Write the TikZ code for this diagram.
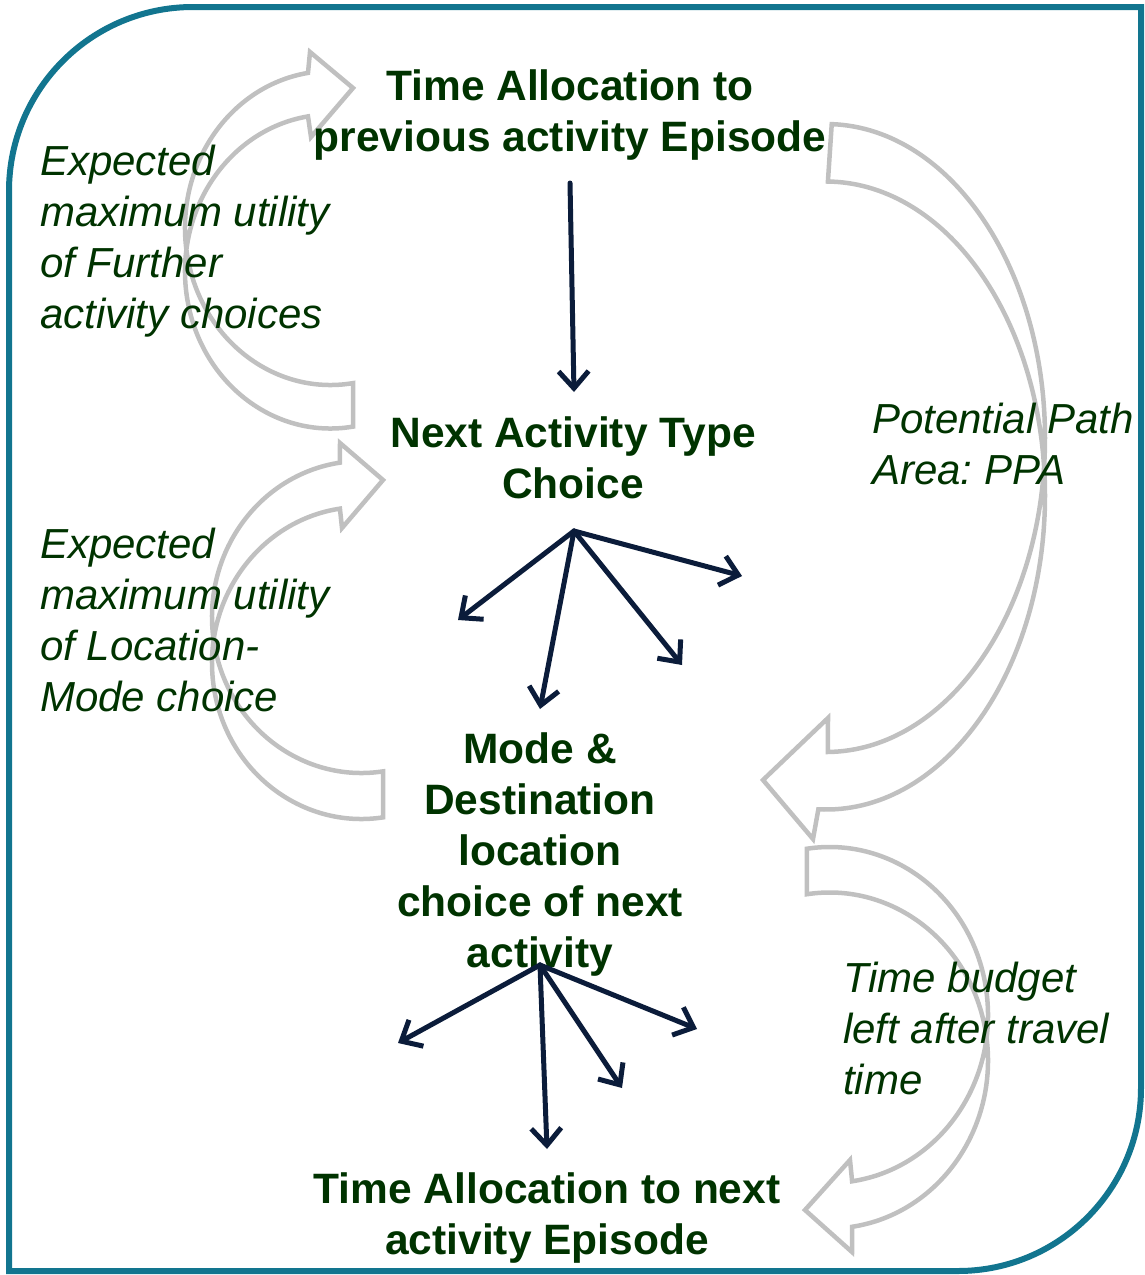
\documentclass[tikz,border=0pt]{standalone}
\usepackage{fontspec}
\setmainfont{Liberation Sans}
\usetikzlibrary{arrows.meta}
\definecolor{frame}{HTML}{12758F}
\definecolor{txtgreen}{HTML}{003300}
\definecolor{navy}{HTML}{0B1C3A}
\definecolor{ribbon}{HTML}{C0C0C0}
\frenchspacing

\begin{document}
\begin{tikzpicture}[x=1pt,y=-1pt,
  title/.style={font=\fontsize{42.5}{51}\selectfont\bfseries, text=txtgreen, align=center, anchor=base, inner sep=0pt},
  note/.style={font=\fontsize{42}{51}\selectfont\itshape, text=txtgreen, align=left, anchor=base west, inner sep=0pt},
  flow/.style={draw=navy, line width=5pt, -{Straight Barb[length=17pt,width=30pt]}, line cap=round, line join=round},
  ribbonarrow/.style={draw=ribbon, line width=4.5pt, line join=miter},
  border/.style={draw=frame, line width=6pt}]

\useasboundingbox (0,0) rectangle (1144,1275);

% outer frame: rounded top-left and bottom-right corners
\draw[border] (9,1271) -- (9,191) arc[start angle=180, end angle=270, radius=184]
  -- (1141,7) -- (1141,1088) arc[start angle=0, end angle=90, radius=183] -- cycle;

% ---- curved feedback arrows (two crossing elliptic arcs + head) ----
% upper left
\path (330.5,228)   ++(81.1:145.5 and 157)  coordinate (aTt);
\path (330.5,271.5) ++(261.1:145.5 and 157) coordinate (aHl);
\draw[ribbonarrow] (aTt) arc[start angle=81.1, end angle=261.1, x radius=145.5, y radius=157]
  -- (310,52) -- (353,88) -- (311,137) -- (aHl)
  arc[start angle=261.1, end angle=81.1, x radius=145.5, y radius=157] -- cycle;

% lower left
\path (361.5,617) ++(81.7:149.5 and 156)  coordinate (bTt);
\path (361.5,663) ++(261.7:149.5 and 156) coordinate (bHl);
\draw[ribbonarrow] (bTt) arc[start angle=81.7, end angle=261.7, x radius=149.5, y radius=156]
  -- (340,443) -- (383,480) -- (342,528) -- (bHl)
  arc[start angle=261.7, end angle=81.7, x radius=149.5, y radius=156] -- cycle;

% large right
\path (826,438)   ++(-88.5:219 and 314) coordinate (cTt);
\path (826,495.5) ++(92:219 and 314)    coordinate (cHl);
\draw[ribbonarrow] (cTt) arc[start angle=-88.5, end angle=89.5, x radius=219, y radius=314]
  -- (828,718) -- (763,780) -- (813,839) -- (cHl)
  arc[start angle=92, end angle=-89.5, x radius=219, y radius=314] -- cycle;

% lower right
\path (829.5,1015)   ++(-98.2:158.5 and 168) coordinate (dTt);
\path (829.5,1060.5) ++(81.8:158.5 and 168)  coordinate (dHl);
\draw[ribbonarrow] (dTt) arc[start angle=-98.2, end angle=81.8, x radius=158.5, y radius=168]
  -- (850,1160) -- (805,1210) -- (852,1252) -- (dHl)
  arc[start angle=81.8, end angle=-98.2, x radius=158.5, y radius=168] -- cycle;

% ---- decision stages (anchored at the baseline of the last line) ----
\node[title] (prev) at (570,151) {Time Allocation to\\previous activity Episode};
\node[title] (type) at (573,498) {Next Activity Type\\Choice};
\node[title] (mode) at (540,967) {Mode \&\\Destination\\location\\choice of next\\activity};
\node[title] (next) at (547,1254) {Time Allocation to next\\activity Episode};

% ---- side notes ----
\node[note] (emuA) at (40,328) {Expected\\maximum utility\\of Further\\activity choices};
\node[note] (emuB) at (40,711) {Expected\\maximum utility\\of Location-\\Mode choice};
\node[note] (ppa)  at (872,484) {Potential Path\\Area: PPA};
\node[note] (tb)   at (843,1094) {Time budget\\left after travel\\time};

% ---- choice arrows ----
\coordinate (s0) at (570,183);
\coordinate (s1) at (574,392);
\draw[flow] (s0) -- (s1);

\coordinate (f1) at (574,531);
\coordinate (f1a) at (458,620);
\coordinate (f1b) at (540,709);
\coordinate (f1c) at (682,665);
\coordinate (f1d) at (742,576);
\foreach \e in {f1a,f1b,f1c,f1d} \draw[flow] (f1) -- (\e);

\coordinate (f2) at (540,965);
\coordinate (f2a) at (398,1043);
\coordinate (f2b) at (547,1149);
\coordinate (f2c) at (622,1088);
\coordinate (f2d) at (697,1029);
\foreach \e in {f2a,f2b,f2c,f2d} \draw[flow] (f2) -- (\e);

\end{tikzpicture}
\end{document}
